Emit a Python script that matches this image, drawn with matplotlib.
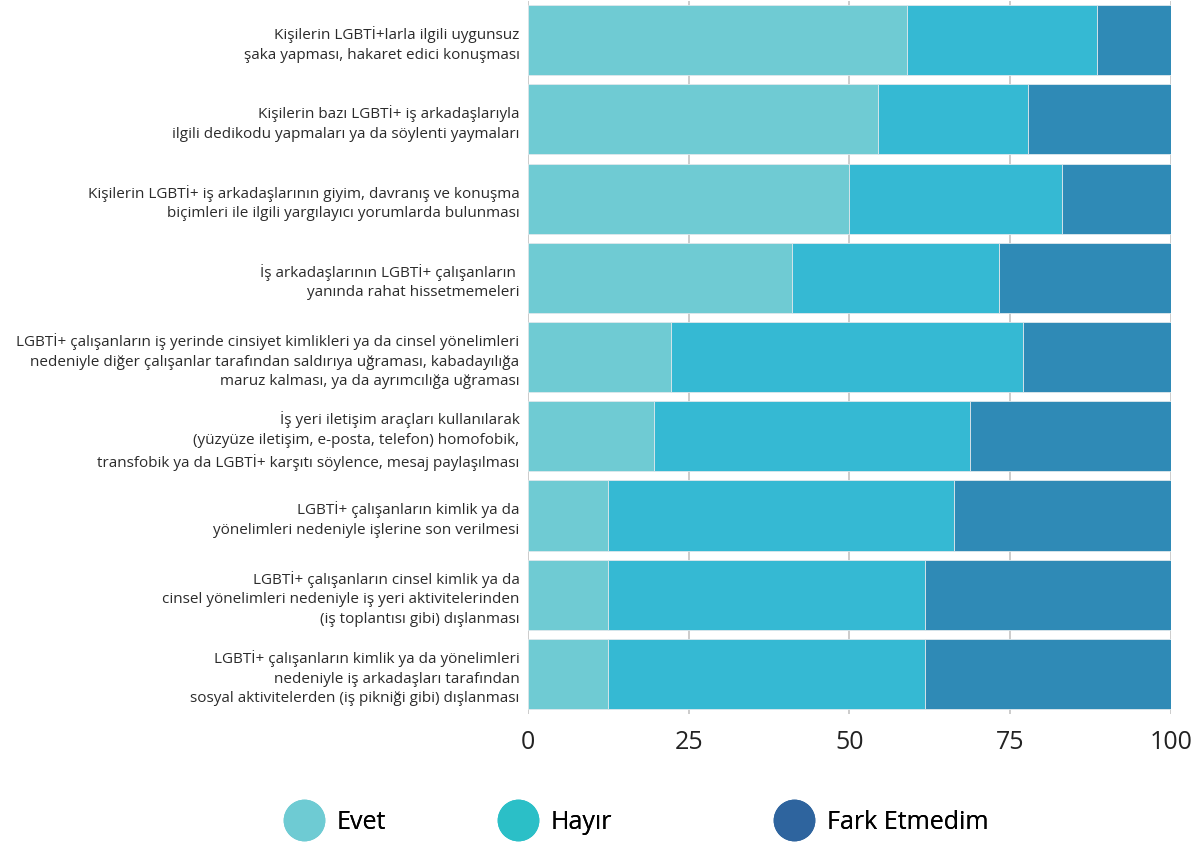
import matplotlib
matplotlib.use("Agg")
import matplotlib.pyplot as plt
from matplotlib.lines import Line2D
import numpy as np

categories = [
    "Kişilerin LGBTİ+larla ilgili uygunsuz\nşaka yapması, hakaret edici konuşması",
    "Kişilerin bazı LGBTİ+ iş arkadaşlarıyla\nilgili dedikodu yapmaları ya da söylenti yaymaları",
    "Kişilerin LGBTİ+ iş arkadaşlarının giyim, davranış ve konuşma\nbiçimleri ile ilgili yargılayıcı yorumlarda bulunması",
    "İş arkadaşlarının LGBTİ+ çalışanların \nyanında rahat hissetmemeleri",
    "LGBTİ+ çalışanların iş yerinde cinsiyet kimlikleri ya da cinsel yönelimleri\nnedeniyle diğer çalışanlar tarafından saldırıya uğraması, kabadayılığa\nmaruz kalması, ya da ayrımcılığa uğraması",
    "İş yeri iletişim araçları kullanılarak\n(yüzyüze iletişim, e-posta, telefon) homofobik,\ntransfobik ya da LGBTİ+ karşıtı söylence, mesaj paylaşılması",
    "LGBTİ+ çalışanların kimlik ya da\nyönelimleri nedeniyle işlerine son verilmesi",
    "LGBTİ+ çalışanların cinsel kimlik ya da\ncinsel yönelimleri nedeniyle iş yeri aktivitelerinden\n(iş toplantısı gibi) dışlanması",
    "LGBTİ+ çalışanların kimlik ya da yönelimleri\nnedeniyle iş arkadaşları tarafından\nsosyal aktivitelerden (iş pikniği gibi) dışlanması",
]
evet = [59, 54.5, 50, 41, 22.2, 19.6, 12.5, 12.5, 12.5]
hayir = [29.5, 23.3, 33, 32.3, 54.8, 49.1, 53.8, 49.2, 49.2]
fark = [100 - e - h for e, h in zip(evet, hayir)]
series_names = ["Evet", "Hayır", "Fark Etmedim"]
xticks = [0, 25, 50, 75, 100]

bar_colors = ["#6fcbd3", "#35b9d3", "#2f8ab6"]
legend_colors = ["#6ecbd3", "#2bbfc7", "#2e649e"]

fig = plt.figure(figsize=(12.04, 8.46), dpi=100)
ax = fig.add_axes([0.4385, 0.1566, 0.534, 0.8428])

y = np.arange(len(categories))
left = np.zeros(len(categories))
for vals, col in zip([evet, hayir, fark], bar_colors):
    ax.barh(y, vals, left=left, height=0.885, color=col,
            edgecolor="#dfe8ec", linewidth=0.6, zorder=3)
    left += np.array(vals)

ax.set_ylim(len(categories) - 0.5, -0.5)
ax.set_xlim(0, 100)
ax.set_yticks(y)
ax.set_yticklabels(categories, fontsize=11, family="Open Sans", weight=500,
                   color="#2b2b2b", linespacing=1.42)
ax.set_xticks(xticks)
ax.set_xticklabels([str(t) for t in xticks], fontsize=18, family="Open Sans",
                   color="#222222")
ax.tick_params(axis="both", length=0)
ax.tick_params(axis="x", pad=12)
ax.tick_params(axis="y", pad=6)
ax.xaxis.grid(True, color="#cccccc", linewidth=1.4, zorder=0)
for s in ax.spines.values():
    s.set_visible(False)

# legend: three entries placed individually to match the reference spacing
legend_x = [0.236, 0.414, 0.643]
for name, col, lx in zip(series_names, legend_colors, legend_x):
    h = Line2D([0], [0], marker="o", linestyle="none", markersize=29,
               markerfacecolor=col, markeredgecolor=col)
    leg = fig.legend([h], [name], loc="center left", bbox_to_anchor=(lx, 0.028),
                     frameon=False, prop={"family": "Open Sans", "size": 18},
                     handletextpad=0.5, borderpad=0, borderaxespad=0,
                     handlelength=1.6)
    fig.add_artist(leg)

fig.savefig("out.png", dpi=100, facecolor="white")
